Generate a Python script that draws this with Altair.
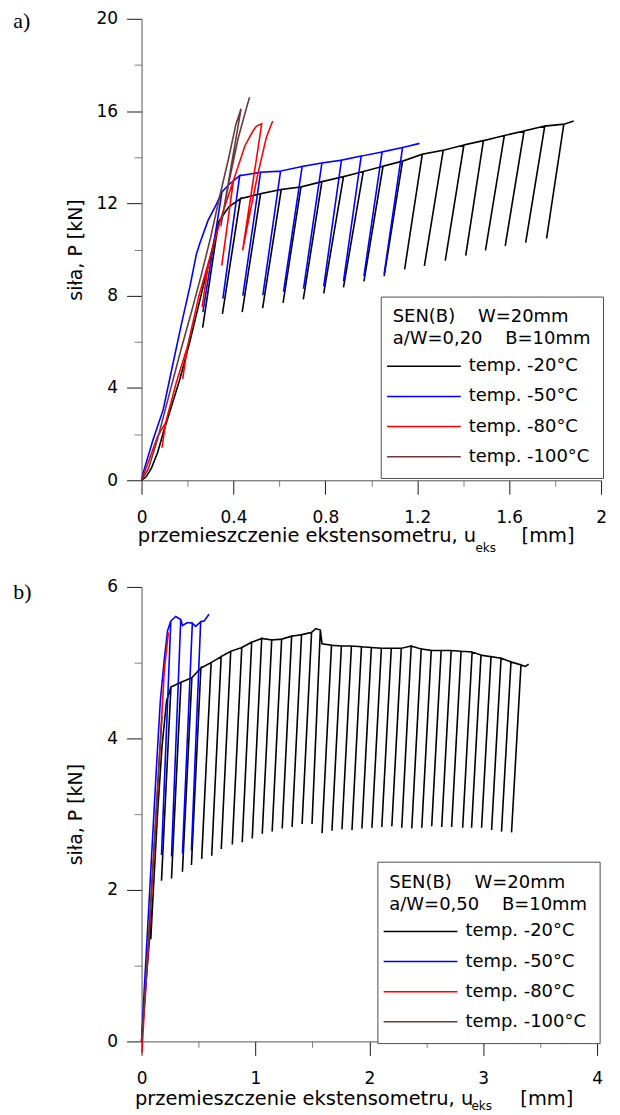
import altair as alt
import pandas as pd

SERIES = ["temp. -20°C", "temp. -50°C", "temp. -80°C", "temp. -100°C"]
COLORS = ["#000000", "#0000ff", "#ff0000", "#6b3a3a"]
FONT = "DejaVu Sans"

# ---------------- panel a)  a/W = 0,20 ----------------
A_X_TICKS = [0, 0.2, 0.4, 0.6, 0.8, 1.0, 1.2, 1.4, 1.6, 1.8, 2.0]
A_Y_TICKS = [0, 2, 4, 6, 8, 10, 12, 14, 16, 18, 20]

A_BLACK_LOAD_X = [0, 0.02, 0.043, 0.07, 0.094, 0.13, 0.167, 0.21, 0.261, 0.30]
A_BLACK_LOAD_Y = [0, 0.15, 0.53, 1.2, 2.05, 3.2, 4.39, 6.0, 8.1, 9.7]
A_BLACK_PEAK_X = [0.335, 0.430, 0.518, 0.608, 0.694, 0.785, 0.879, 0.965, 1.051,
                  1.136, 1.222, 1.313, 1.403, 1.488, 1.579, 1.665, 1.755, 1.838]
A_BLACK_PEAK_Y = [11.2, 12.2, 12.42, 12.6, 12.71, 12.94, 13.16, 13.38, 13.61,
                  13.83, 14.13, 14.3, 14.53, 14.72, 14.94, 15.14, 15.35, 15.43]
A_BLACK_LOW_X = [0.266, 0.352, 0.438, 0.527, 0.616, 0.704, 0.793, 0.879, 0.968,
                 1.056, 1.145, 1.231, 1.322, 1.411, 1.497, 1.583, 1.672, 1.763]
A_BLACK_LOW_Y = [6.62, 7.21, 7.29, 7.46, 7.69, 7.84, 8.10, 8.36, 8.62,
                 8.85, 9.14, 9.29, 9.52, 9.74, 9.96, 10.16, 10.30, 10.48]
A_BLACK_ENV_X = [0.38]
A_BLACK_ENV_Y = [11.85]
A_BLACK_END_X = [1.881]
A_BLACK_END_Y = [15.57]

A_BLUE_LOAD_X = [0, 0.007, 0.05, 0.094, 0.137, 0.174, 0.21, 0.239, 0.253, 0.289, 0.326]
A_BLUE_LOAD_Y = [0, 0.32, 1.76, 3.05, 5.07, 6.79, 8.37, 9.81, 10.25, 11.25, 11.97]
A_BLUE_PEAK_X = [0.35, 0.427, 0.518, 0.605, 0.699, 0.785, 0.870, 0.956, 1.047, 1.136]
A_BLUE_PEAK_Y = [12.5, 13.2, 13.35, 13.4, 13.6, 13.75, 13.87, 14.05, 14.23, 14.42]
A_BLUE_LOW_X = [0.267, 0.354, 0.441, 0.528, 0.618, 0.705, 0.793, 0.879, 0.968, 1.056]
A_BLUE_LOW_Y = [7.29, 7.87, 8.0, 8.02, 8.17, 8.3, 8.4, 8.62, 8.85, 8.95]
A_BLUE_ENV_X = [0.383]
A_BLUE_ENV_Y = [12.84]
A_BLUE_END_X = [1.21]
A_BLUE_END_Y = [14.6]

A_RED_X = [0, 0.03, 0.07, 0.105, 0.089, 0.105, 0.15, 0.20, 0.179, 0.20, 0.25, 0.293,
           0.264, 0.293, 0.35, 0.40, 0.349, 0.40, 0.45, 0.485, 0.50, 0.523, 0.44,
           0.47, 0.506, 0.543, 0.56, 0.571]
A_RED_Y = [0, 0.8, 1.9, 2.5, 1.41, 2.5, 4.2, 5.8, 4.39, 5.8, 8.0, 9.5,
           7.51, 9.5, 11.5, 13.0, 9.3, 13.0, 14.5, 15.14, 15.35, 15.45, 9.96,
           11.5, 13.27, 14.85, 15.3, 15.57]

A_BROWN_X = [0, 0.03, 0.07, 0.12, 0.17, 0.22, 0.26, 0.30, 0.34, 0.38, 0.41, 0.433,
             0.345, 0.38, 0.42, 0.45, 0.47]
A_BROWN_Y = [0, 0.5, 1.8, 3.7, 5.6, 7.4, 8.9, 10.5, 12.3, 14.0, 15.4, 16.1,
             11.0, 12.9, 14.8, 15.9, 16.6]

# ---------------- panel b)  a/W = 0,50 ----------------
B_X_TICKS = [0, 0.5, 1, 1.5, 2, 2.5, 3, 3.5, 4]
B_Y_TICKS = [0, 1, 2, 3, 4, 5, 6]

B_BLACK_LOAD_X = [0, 0.04, 0.10, 0.081, 0.10, 0.14, 0.18, 0.22]
B_BLACK_LOAD_Y = [0, 0.8, 1.9, 1.35, 1.9, 3.0, 3.9, 4.5]
B_BLACK_PEAK_X = [0.258, 0.346, 0.442, 0.521, 0.611, 0.699, 0.783, 0.880, 0.967,
                  1.055, 1.143, 1.230, 1.318, 1.405, 1.493, 1.570, 1.668, 1.755,
                  1.843, 1.931, 2.018, 2.106, 2.193, 2.281, 2.368, 2.456, 2.544,
                  2.631, 2.719, 2.806, 2.903, 2.981, 3.069, 3.157, 3.244, 3.332]
B_BLACK_PEAK_Y = [4.68, 4.74, 4.80, 4.93, 5.00, 5.08, 5.15, 5.20, 5.27,
                  5.32, 5.30, 5.31, 5.35, 5.37, 5.40, 5.43, 5.23, 5.22,
                  5.22, 5.21, 5.20, 5.19, 5.19, 5.19, 5.22, 5.18, 5.16,
                  5.16, 5.16, 5.15, 5.14, 5.10, 5.08, 5.06, 5.01, 4.97]
B_BLACK_LOW_X = [0.175, 0.263, 0.359, 0.438, 0.528, 0.616, 0.700, 0.797, 0.884,
                 0.972, 1.060, 1.147, 1.235, 1.322, 1.410, 1.497, 1.585, 1.672,
                 1.760, 1.848, 1.935, 2.023, 2.110, 2.198, 2.285, 2.373, 2.461,
                 2.548, 2.636, 2.723, 2.820, 2.898, 2.986, 3.074, 3.161, 3.249]
B_BLACK_LOW_Y = [2.12, 2.15, 2.24, 2.33, 2.41, 2.45, 2.54, 2.60, 2.63,
                 2.68, 2.74, 2.77, 2.81, 2.83, 2.87, 2.87, 2.75, 2.78,
                 2.80, 2.79, 2.81, 2.82, 2.83, 2.84, 2.82, 2.81, 2.82,
                 2.84, 2.83, 2.83, 2.82, 2.82, 2.82, 2.79, 2.77, 2.76]
B_BLACK_ENV_X = [1.53, 1.585]
B_BLACK_ENV_Y = [5.45, 5.25]
B_BLACK_END_X = [3.37, 3.40]
B_BLACK_END_Y = [4.95, 4.98]

B_BLUE_X = [0, 0.015, 0.05, 0.09, 0.13, 0.165, 0.20, 0.228, 0.257, 0.175, 0.257, 0.30,
            0.344, 0.263, 0.344, 0.36, 0.403, 0.446, 0.359, 0.446, 0.475, 0.519,
            0.438, 0.519, 0.55, 0.592]
B_BLUE_Y = [0, 0.45, 1.4, 2.5, 3.6, 4.5, 5.05, 5.42, 5.55, 2.46, 5.55, 5.61,
            5.57, 2.44, 5.57, 5.49, 5.53, 5.52, 2.48, 5.52, 5.48, 5.54,
            2.52, 5.54, 5.55, 5.64]

B_RED_X = [0.003, 0.02, 0.05, 0.09, 0.13, 0.17, 0.20, 0.236]
B_RED_Y = [-0.15, 0.3, 1.0, 2.0, 3.0, 4.1, 4.9, 5.40]

B_BROWN_X = [0, 0.03, 0.07, 0.11, 0.15, 0.18]
B_BROWN_Y = [0, 0.6, 1.6, 2.6, 3.6, 4.3]


def cycle_path(load_x, load_y, peak_x, peak_y, low_x, low_y, env_x, env_y, end_x, end_y):
    xs, ys = list(load_x), list(load_y)
    env = sorted(zip(env_x, env_y))
    k = 0
    for px, py, lx, ly in zip(peak_x, peak_y, low_x, low_y):
        while k < len(env) and env[k][0] < px:
            xs.append(env[k][0]); ys.append(env[k][1]); k += 1
        xs += [px, lx, px]
        ys += [py, ly, py]
    for ex, ey in env[k:]:
        xs.append(ex); ys.append(ey)
    return xs + list(end_x), ys + list(end_y)


def table(paths):
    rows = []
    for name, (xs, ys) in zip(SERIES, paths):
        for i, (x, y) in enumerate(zip(xs, ys)):
            rows.append({"seria": name, "u": x, "P": y, "i": i})
    return pd.DataFrame(rows)


df_a = table([
    cycle_path(A_BLACK_LOAD_X, A_BLACK_LOAD_Y, A_BLACK_PEAK_X, A_BLACK_PEAK_Y,
               A_BLACK_LOW_X, A_BLACK_LOW_Y, A_BLACK_ENV_X, A_BLACK_ENV_Y,
               A_BLACK_END_X, A_BLACK_END_Y),
    cycle_path(A_BLUE_LOAD_X, A_BLUE_LOAD_Y, A_BLUE_PEAK_X, A_BLUE_PEAK_Y,
               A_BLUE_LOW_X, A_BLUE_LOW_Y, A_BLUE_ENV_X, A_BLUE_ENV_Y,
               A_BLUE_END_X, A_BLUE_END_Y),
    (A_RED_X, A_RED_Y),
    (A_BROWN_X, A_BROWN_Y),
])

df_b = table([
    cycle_path(B_BLACK_LOAD_X, B_BLACK_LOAD_Y, B_BLACK_PEAK_X, B_BLACK_PEAK_Y,
               B_BLACK_LOW_X, B_BLACK_LOW_Y, B_BLACK_ENV_X, B_BLACK_ENV_Y,
               B_BLACK_END_X, B_BLACK_END_Y),
    (B_BLUE_X, B_BLUE_Y),
    (B_RED_X, B_RED_Y),
    (B_BROWN_X, B_BROWN_Y),
])


def make_axis(values, test, major, minor, pad, title=None, **kw):
    return alt.Axis(
        values=values, format="~g",
        labelExpr=f"({test}) ? datum.label : ''",
        tickSize={"condition": {"test": test, "value": major}, "value": minor},
        tickColor={"condition": {"test": test, "value": "#1a1a1a"}, "value": "#808080"},
        labelPadding=pad, grid=False, labelFlush=False, labelOverlap=False,
        title=title, **kw)


def make_legend(header, lx, ly):
    return alt.Legend(
        title=header, orient="none", legendX=lx, legendY=ly,
        titleFont=FONT, titleFontSize=18, titleFontWeight="normal", titleColor="black",
        titleLineHeight=22, titlePadding=8, titleLimit=400,
        labelFont=FONT, labelFontSize=18, labelColor="black", labelOffset=56.3,
        labelLimit=300,
        symbolType="M-1.697,0H6.303", symbolSize=342.25, symbolStrokeWidth=1.5,
        rowPadding=11.2, padding=12, strokeColor="#4d4d4d", fillColor="white",
        cornerRadius=0)


def text(t, x, y, size, font=FONT):
    return alt.Chart(pd.DataFrame({"t": [t]})).mark_text(
        font=font, fontSize=size, align="left", baseline="alphabetic", color="black"
    ).encode(x=alt.value(x), y=alt.value(y), text="t:N")


Y_TITLE = "siła, P [kN]"
X_TITLE = "przemieszczenie ekstensometru, u"

W_A, H_A = 461, 463
W_B, H_B = 457, 456
LINE_W = 1.6

lines_a = alt.Chart(df_a).mark_line(strokeWidth=LINE_W).encode(
    x=alt.X("u:Q", scale=alt.Scale(domain=[0, 2], nice=False, zero=False),
            axis=make_axis(A_X_TICKS, "round(datum.value * 10) % 4 === 0", 14, 6, 15)),
    y=alt.Y("P:Q", scale=alt.Scale(domain=[0, 20], nice=False, zero=False),
            axis=make_axis(A_Y_TICKS, "datum.value % 4 === 0", 15, 7.5, 9, title=Y_TITLE,
                           titleAngle=270, titleX=-60.5, titleY=H_A / 2,
                           titleAlign="center", titleBaseline="alphabetic")),
    color=alt.Color("seria:N", scale=alt.Scale(domain=SERIES, range=COLORS),
                    legend=make_legend(["SEN(B)\u00a0\u00a0\u00a0\u00a0W=20mm",
                                        "a/W=0,20\u00a0\u00a0\u00a0\u00a0B=10mm"], 240, 278.7)),
    order=alt.Order("i:Q"),
)

panel_a = alt.layer(
    lines_a,
    text(X_TITLE, -3.7, 525.4, 19.5),
    text("eks", 335, 535.4, 12),
    text("[mm]", 381.3, 525.4, 19.5),
    text("a)", -128.7, 9.5, 22, font="Liberation Serif"),
).properties(width=W_A, height=H_A)

lines_b = alt.Chart(df_b).mark_line(strokeWidth=LINE_W).encode(
    x=alt.X("u:Q", scale=alt.Scale(domain=[0, 4], nice=False, zero=False),
            axis=make_axis(B_X_TICKS, "datum.value % 1 === 0", 14, 6, 15)),
    y=alt.Y("P:Q", scale=alt.Scale(domain=[0, 6], nice=False, zero=False),
            axis=make_axis(B_Y_TICKS, "datum.value % 2 === 0", 15, 7.5, 9, title=Y_TITLE,
                           titleAngle=270, titleX=-60.5, titleY=H_B / 2,
                           titleAlign="center", titleBaseline="alphabetic")),
    color=alt.Color("seria:N", scale=alt.Scale(domain=SERIES, range=COLORS),
                    legend=make_legend(["SEN(B)\u00a0\u00a0\u00a0\u00a0W=20mm",
                                        "a/W=0,50\u00a0\u00a0\u00a0\u00a0B=10mm"], 236.6, 275.7)),
    order=alt.Order("i:Q"),
)

panel_b = alt.layer(
    lines_b,
    text(X_TITLE, -6.7, 519.5, 19.5),
    text("eks", 331, 524.5, 12),
    text("[mm]", 380, 519.5, 19.5),
    text("b)", -128.7, 11.7, 22, font="Liberation Serif"),
).properties(width=W_B, height=H_B)

chart = alt.vconcat(panel_a, panel_b, spacing=107, bounds="flush").resolve_scale(
    x="independent", y="independent", color="independent"
).resolve_legend(color="independent").properties(
    padding={"left": 5, "top": 0, "right": 5, "bottom": 0}
).configure_view(stroke=None).configure_axis(
    labelFont=FONT, labelFontSize=17, labelColor="black",
    titleFont=FONT, titleFontSize=19, titleFontWeight="normal", titleColor="black",
    domainColor="#555555", domainWidth=1, tickWidth=1,
)

chart.save("out.html", embed_options={"renderer": "svg", "actions": False})
